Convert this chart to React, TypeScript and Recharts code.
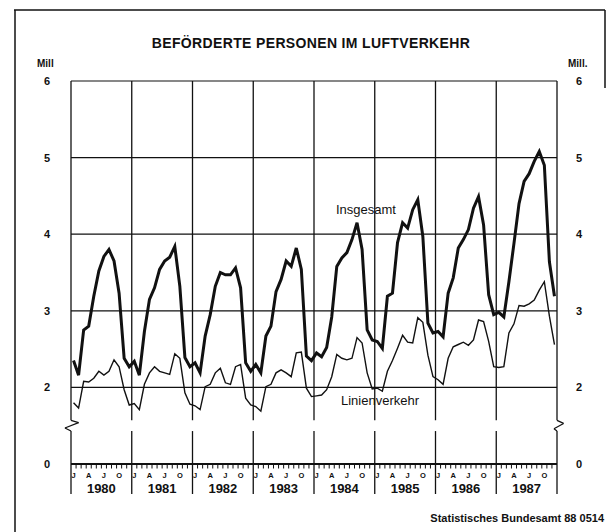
import React from "react";
import { LineChart, Line, XAxis, YAxis, ReferenceLine } from "recharts";

const INK = "#111";
const FONT = "'Liberation Sans', Arial, sans-serif";

const years = ["1980", "1981", "1982", "1983", "1984", "1985", "1986", "1987"];
const monthLetters = ["J", "A", "J", "O"];

// Mill. passengers, monthly Jan 1980 .. Dec 1987
const insgesamt = [
  2.35, 2.16, 2.75, 2.8, 3.19, 3.52, 3.71, 3.8, 3.65, 3.23, 2.38, 2.27,
  2.34, 2.16, 2.73, 3.15, 3.3, 3.54, 3.65, 3.7, 3.84, 3.32, 2.39, 2.27,
  2.32, 2.19, 2.67, 2.95, 3.32, 3.5, 3.47, 3.47, 3.56, 3.3, 2.32, 2.21,
  2.3, 2.19, 2.67, 2.8, 3.25, 3.41, 3.65, 3.58, 3.82, 3.54, 2.41, 2.35,
  2.45, 2.4, 2.52, 2.92, 3.58, 3.69, 3.76, 3.93, 4.15, 3.8, 2.75, 2.62,
  2.6, 2.51, 3.19, 3.23, 3.89, 4.15, 4.08, 4.32, 4.45, 3.97, 2.84, 2.71,
  2.73, 2.66, 3.23, 3.43, 3.82, 3.93, 4.06, 4.34, 4.49, 4.12, 3.21, 2.95,
  2.98, 2.92, 3.38, 3.88, 4.4, 4.69, 4.79, 4.95, 5.08, 4.9, 3.64, 3.19,
];

const linienverkehr = [
  1.8, 1.73, 2.08, 2.07, 2.12, 2.21, 2.16, 2.21, 2.36, 2.27, 1.97, 1.77,
  1.79, 1.71, 2.04, 2.19, 2.27, 2.21, 2.19, 2.17, 2.44, 2.38, 1.93, 1.78,
  1.76, 1.71, 2.01, 2.04, 2.19, 2.25, 2.06, 2.04, 2.27, 2.3, 1.86, 1.77,
  1.75, 1.69, 2.01, 2.04, 2.19, 2.23, 2.19, 2.14, 2.45, 2.46, 1.99, 1.88,
  1.89, 1.9, 1.97, 2.14, 2.43, 2.38, 2.36, 2.38, 2.65, 2.58, 2.19, 1.98,
  1.99, 1.95, 2.21, 2.35, 2.51, 2.68, 2.59, 2.58, 2.91, 2.85, 2.42, 2.14,
  2.1, 2.04, 2.38, 2.53, 2.56, 2.59, 2.55, 2.62, 2.88, 2.86, 2.6, 2.27,
  2.26, 2.27, 2.71, 2.83, 3.07, 3.06, 3.09, 3.14, 3.27, 3.38, 2.93, 2.56,
];

// the axis is broken: the bottom line (value 1 on the scale) is labelled 0
const yTicks = [1, 2, 3, 4, 5, 6];
const yTickLabels = ["0", "2", "3", "4", "5", "6"];
const gridValues = [2, 3, 4, 5, 6];
const BREAK_LOW = 1.43;
const BREAK_HIGH = 1.57;

const data = insgesamt.map((v, i) => ({
  m: i + 0.5,
  insgesamt: v,
  linien: linienverkehr[i],
}));

const yearBounds = years.map((_, i) => i * 12).concat([96]);
const monthTicks = Array.from({ length: 97 }, (_, i) => i);
const letterTicks = years.flatMap((_, y) => [0, 3, 6, 9].map((m) => y * 12 + m + 0.5));
const xTicks = [...monthTicks, ...letterTicks].sort((a, b) => a - b);

const zigLeft = [
  { x: 0, y: 1.57 },
  { x: 1.5, y: 1.54 },
  { x: -1.2, y: 1.47 },
  { x: 0, y: 1.43 },
];
const zigRight = [
  { x: 96, y: 1.57 },
  { x: 97.3, y: 1.53 },
  { x: 95.4, y: 1.46 },
  { x: 96, y: 1.43 },
];

const XTick = (props: any) => {
  const { x, y, payload } = props;
  const v = payload.value;
  if (!Number.isInteger(v)) {
    const k = Math.round(((v - 0.5) % 12) / 3);
    return (
      <text x={x} y={y + 14} textAnchor="middle" fontSize={7.5} fontWeight="bold" fill={INK} fontFamily={FONT}>
        {monthLetters[k]}
      </text>
    );
  }
  const isYear = v % 12 === 0;
  return (
    <g>
      <line x1={x} x2={x} y1={y} y2={y + (isYear ? 30 : 4.5)} stroke={INK} strokeWidth={isYear ? 1.3 : 1} />
      {v % 12 === 6 && (
        <text x={x} y={y + 29} textAnchor="middle" fontSize={13} fontWeight="bold" fill={INK} fontFamily={FONT}>
          {years[(v - 6) / 12]}
        </text>
      )}
    </g>
  );
};

const YTick = (props: any) => {
  const { x, y, payload, side } = props;
  const label = yTickLabels[yTicks.indexOf(payload.value)];
  const tx = side === "right" ? x + 22 : x - 24;
  return (
    <text x={tx} y={y + 4} textAnchor="middle" fontSize={11} fontWeight="bold" fill={INK} fontFamily={FONT}>
      {label}
    </text>
  );
};

const segs = (pts: { x: number; y: number }[]) =>
  pts.slice(1).map((p, i) => [pts[i], p] as [{ x: number; y: number }, { x: number; y: number }]);

export default function App() {
  return (
    <div style={{ position: "absolute", left: 0, top: 0, width: 609, height: 532, background: "#fff" }}>
      <LineChart
        width={609}
        height={532}
        data={data}
        margin={{ top: 81, right: 22, left: 41, bottom: 28 }}
      >
        <XAxis
          dataKey="m"
          type="number"
          domain={[0, 96]}
          ticks={xTicks}
          interval={0}
          height={40}
          tickSize={0}
          tickMargin={0}
          tickLine={false}
          axisLine={{ stroke: INK, strokeWidth: 2.2 }}
          tick={<XTick />}
        />
        <YAxis
          type="number"
          domain={[1, 6]}
          ticks={yTicks}
          interval={0}
          width={30}
          tickSize={0}
          tickMargin={0}
          axisLine={false}
          tickLine={false}
          tick={<YTick side="left" />}
        />
        <YAxis
          yAxisId="r"
          orientation="right"
          type="number"
          domain={[1, 6]}
          ticks={yTicks}
          interval={0}
          width={30}
          tickSize={0}
          tickMargin={0}
          axisLine={false}
          tickLine={false}
          tick={<YTick side="right" />}
        />
        {gridValues.map((g) => (
          <ReferenceLine key={"h" + g} y={g} stroke={INK} strokeWidth={1.2} />
        ))}
        {yearBounds.map((b) => (
          <ReferenceLine
            key={"vl" + b}
            segment={[{ x: b, y: 1 }, { x: b, y: BREAK_LOW }]}
            stroke={INK}
            strokeWidth={1.3}
          />
        ))}
        {yearBounds.map((b) => (
          <ReferenceLine
            key={"vu" + b}
            segment={[{ x: b, y: BREAK_HIGH }, { x: b, y: 6 }]}
            stroke={INK}
            strokeWidth={1.3}
          />
        ))}
        {[...segs(zigLeft), ...segs(zigRight)].map((s, i) => (
          <ReferenceLine key={"z" + i} segment={s} stroke={INK} strokeWidth={1.2} ifOverflow="visible" />
        ))}
        {/* invisible copy so the right-hand scale gets its ticks */}
        <Line
          yAxisId="r"
          type="linear"
          dataKey="insgesamt"
          stroke="none"
          strokeWidth={0}
          dot={false}
          activeDot={false}
          legendType="none"
          isAnimationActive={false}
        />
        <Line
          type="linear"
          dataKey="linien"
          stroke={INK}
          strokeWidth={1.4}
          dot={false}
          isAnimationActive={false}
        />
        <Line
          type="linear"
          dataKey="insgesamt"
          stroke={INK}
          strokeWidth={3}
          dot={false}
          isAnimationActive={false}
        />
      </LineChart>
      <svg
        width={609}
        height={532}
        style={{ position: "absolute", left: 0, top: 0, pointerEvents: "none" }}
        fontFamily={FONT}
      >
        <line x1={14} x2={605} y1={10} y2={10} stroke={INK} strokeWidth={1.5} />
        <line x1={15} x2={15} y1={10} y2={532} stroke={INK} strokeWidth={1.5} />
        <line x1={605} x2={605} y1={10} y2={88} stroke={INK} strokeWidth={1.5} />
        <text x={311} y={48} textAnchor="middle" fontSize={14} fontWeight="bold" letterSpacing={0.35} fill={INK}>
          BEFÖRDERTE PERSONEN IM LUFTVERKEHR
        </text>
        <text x={37} y={67} fontSize={10} fontWeight="bold" fill={INK}>
          Mill
        </text>
        <text x={568} y={67} fontSize={10} fontWeight="bold" fill={INK}>
          Mill.
        </text>
        <text x={366} y={214} textAnchor="middle" fontSize={13} fill={INK}>
          Insgesamt
        </text>
        <text x={380} y={405} textAnchor="middle" fontSize={13} fill={INK}>
          Linienverkehr
        </text>
        <text x={604} y={522} textAnchor="end" fontSize={11} fontWeight="bold" fill={INK}>
          Statistisches Bundesamt 88 0514
        </text>
      </svg>
    </div>
  );
}
